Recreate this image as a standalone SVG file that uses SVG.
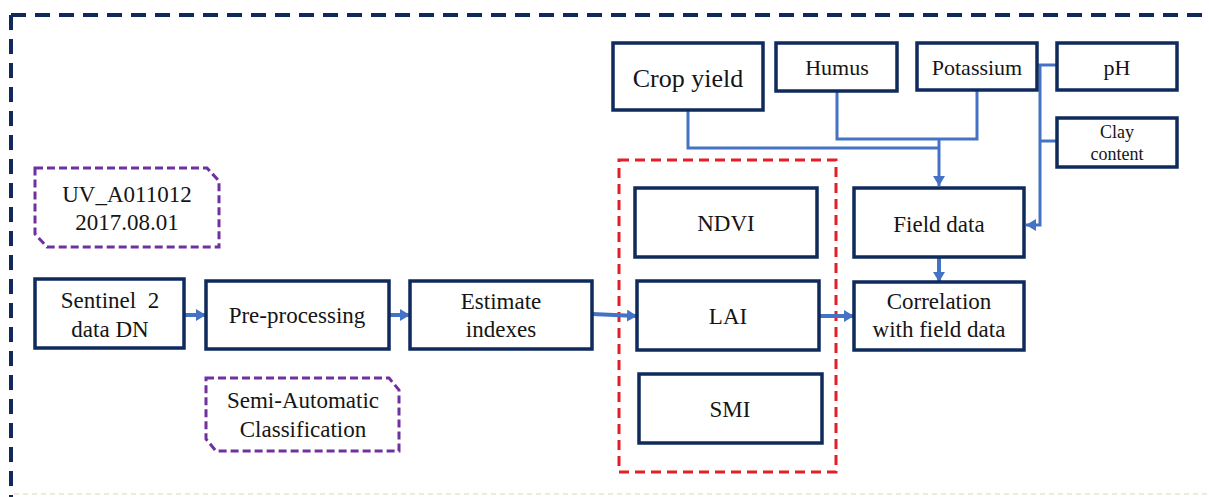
<svg xmlns="http://www.w3.org/2000/svg" width="1209" height="497" viewBox="0 0 1209 497" font-family="'Liberation Serif', 'Times New Roman', Times, serif">
<defs>
<style>
.node rect{fill:#fff;stroke:#0f2a5c;stroke-width:3.5}
text{font-family:'Liberation Serif','Times New Roman',Times,serif;fill:#151515;text-anchor:middle}
.t23{font-size:23px}
.t22{font-size:22px}
.note path{fill:#fff;stroke:#7030a0;stroke-width:3;stroke-dasharray:8 4}
.conn{fill:none;stroke:#4472c4;stroke-width:3}
.arr{fill:none;stroke:#4472c4;stroke-width:4}
</style>
<marker id="ah" markerUnits="userSpaceOnUse" markerWidth="12" markerHeight="12" refX="10" refY="6" orient="auto">
<path d="M0,0 L10,6 L0,12 Z" fill="#4472c4"/>
</marker>
</defs>
<rect width="1209" height="497" fill="#fff"/>
<g id="frame">
<path d="M11,15 H1209" fill="none" stroke="#10295a" stroke-width="4" stroke-dasharray="15 9"/>
<path d="M11,15 V497" fill="none" stroke="#10295a" stroke-width="4" stroke-dasharray="15 9"/>
<path d="M14,494 H1209" fill="none" stroke="#ecebdc" stroke-width="2" stroke-dasharray="5 4"/>
</g>
<g id="indices-group">
<rect x="619" y="160" width="217" height="312" fill="none" stroke="#e31e24" stroke-width="3" stroke-dasharray="10 6"/>
</g>
<g id="connectors">
<path class="conn" d="M688,110 V148 H939"/>
<path class="conn" d="M837,91 V139 H977 V90" stroke="#3a7cc4" stroke-width="2.5"/>
<path class="conn" d="M939,139 V186" marker-end="url(#ah)"/>
<path class="conn" d="M1037,65 H1057 M1040,65 V225 H1026" marker-end="url(#ah)"/>
<path class="conn" d="M1040,141 H1057"/>
<path class="arr" d="M184,315 H206" marker-end="url(#ah)"/>
<path class="arr" d="M389,315 H410" marker-end="url(#ah)"/>
<path class="arr" d="M592,314 L637,316" marker-end="url(#ah)"/>
<path class="arr" d="M819,316 H854" marker-end="url(#ah)"/>
<path class="arr" d="M939,257 V282" marker-end="url(#ah)"/>
</g>
<g id="uv" class="note">
<path d="M35,168 H207 L219,181 V247 H47 L35,234 Z"/>
<text class="t23" x="127" y="202">UV_A011012</text>
<text class="t23" x="127" y="230">2017.08.01</text>
</g>
<g id="sac" class="note">
<path d="M206,378 H389 L399,390 V451 H216 L206,439 Z"/>
<text class="t23" x="303" y="408">Semi-Automatic</text>
<text class="t23" x="303" y="437">Classification</text>
</g>
<g id="sentinel" class="node">
<rect x="35" y="279" width="149" height="69"/>
<text class="t23" x="110" y="308" xml:space="preserve">Sentinel  2</text>
<text class="t23" x="110" y="337">data DN</text>
</g>
<g id="preprocessing" class="node">
<rect x="206" y="281" width="183" height="68"/>
<text class="t23" x="297" y="323">Pre-processing</text>
</g>
<g id="estimate" class="node">
<rect x="410" y="281" width="182" height="68"/>
<text class="t23" x="501" y="309">Estimate</text>
<text class="t23" x="501" y="337">indexes</text>
</g>
<g id="ndvi" class="node">
<rect x="635" y="188" width="182" height="69"/>
<text class="t23" x="726" y="231">NDVI</text>
</g>
<g id="lai" class="node">
<rect x="637" y="281" width="182" height="69"/>
<text class="t23" x="728" y="324">LAI</text>
</g>
<g id="smi" class="node">
<rect x="639" y="374" width="183" height="69"/>
<text class="t23" x="730" y="417">SMI</text>
</g>
<g id="crop-yield" class="node">
<rect x="613" y="43" width="150" height="67"/>
<text x="688" y="87" font-size="26">Crop yield</text>
</g>
<g id="humus" class="node">
<rect x="776" y="43" width="121" height="48"/>
<text class="t22" x="837" y="75">Humus</text>
</g>
<g id="potassium" class="node">
<rect x="917" y="43" width="120" height="47"/>
<text class="t22" x="977" y="75">Potassium</text>
</g>
<g id="ph" class="node">
<rect x="1057" y="43" width="120" height="47"/>
<text class="t22" x="1117" y="75">pH</text>
</g>
<g id="clay" class="node">
<rect x="1057" y="118" width="120" height="49"/>
<text x="1117" y="138" font-size="18">Clay</text>
<text x="1117" y="160" font-size="18">content</text>
</g>
<g id="field-data" class="node">
<rect x="854" y="188" width="170" height="69"/>
<text class="t23" x="939" y="232">Field data</text>
</g>
<g id="correlation" class="node">
<rect x="854" y="282" width="170" height="68"/>
<text class="t23" x="939" y="309">Correlation</text>
<text class="t23" x="939" y="337">with field data</text>
</g>
</svg>
